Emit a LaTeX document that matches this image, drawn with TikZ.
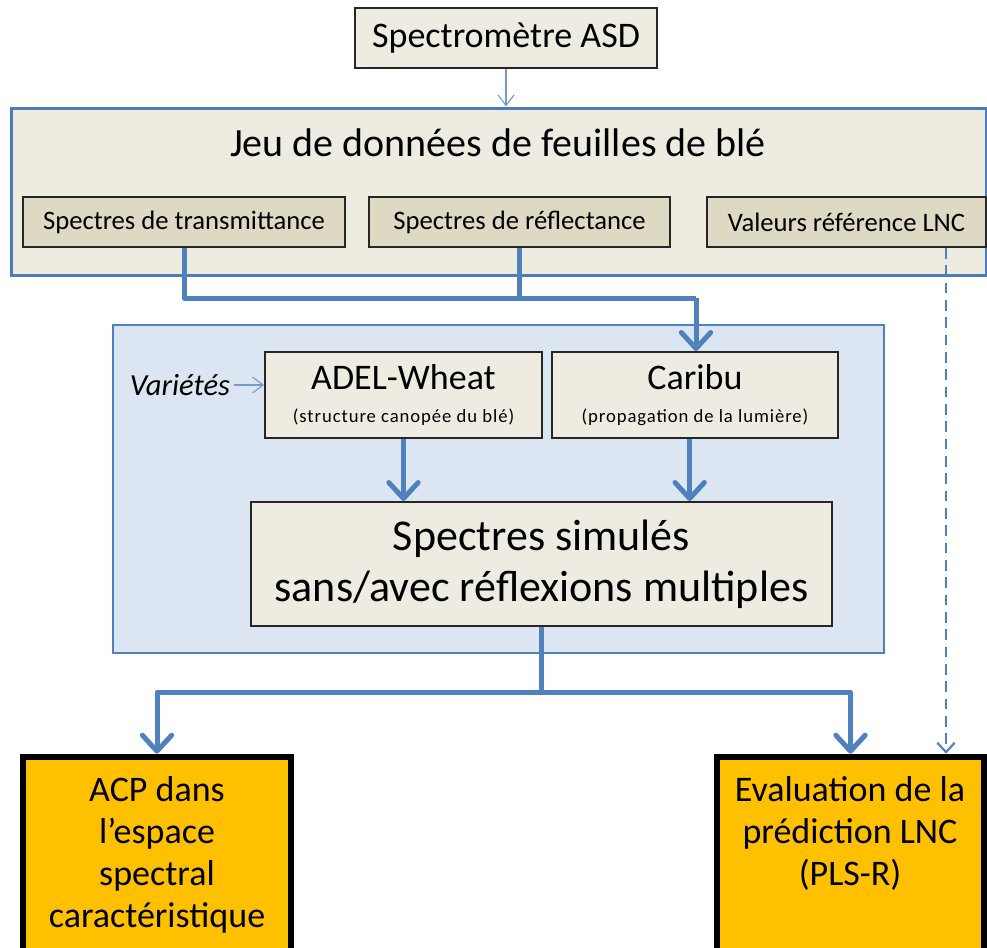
\documentclass[tikz,border=0pt]{standalone}
\usepackage{fontspec}
\setmainfont{Carlito}
\usetikzlibrary{arrows.meta}
\definecolor{beige}{HTML}{EEECE1}
\definecolor{beigedark}{HTML}{DDD9C3}
\definecolor{flowblue}{HTML}{4F81BD}
\definecolor{frameblue}{HTML}{4A7EBB}
\definecolor{paleblue}{HTML}{DCE6F2}
\definecolor{orangebox}{HTML}{FFC000}
\newcommand{\modeltitle}[2]{{\fontsize{27}{30}\selectfont #1}\\
  {\fontsize{14}{26}\selectfont\addfontfeatures{LetterSpace=5}#2}}
\tikzset{
  box/.style={draw=black!85, line width=1.5pt, fill=beige, inner sep=0pt, align=center},
  subbox/.style={box, fill=beigedark, font=\fontsize{20}{24}\selectfont},
  modelbox/.style={box, font=\fontsize{14}{25}\selectfont},
  resbox/.style={draw=black, line width=5pt, fill=orangebox, inner sep=0pt},
  restext/.style={align=center, font=\fontsize{27}{31.5}\selectfont, inner sep=0pt},
  thickflow/.style={draw=flowblue, line width=3.75pt, line join=round,
    -{Straight Barb[length=12pt, width=22pt, line cap=round, line join=round]}},
  thickline/.style={draw=flowblue, line width=3.75pt, line join=round},
  thinflow/.style={draw=flowblue!80, line width=0.8pt,
    -{Straight Barb[length=8pt, width=12pt]}},
  dashflow/.style={draw=flowblue, line width=1.6pt, dash pattern=on 8pt off 5pt,
    -{Straight Barb[length=7pt, width=13pt]}}
}
\begin{document}
\begin{tikzpicture}[x=0.75pt, y=-0.75pt]
\useasboundingbox (0,0) rectangle (987,947);
\clip (0,0) rectangle (987,947);
\fill[white] (0,0) rectangle (987,947);

% top source
\node[box, minimum width=226.5pt, minimum height=45pt,
  font=\fontsize{27}{30}\selectfont] (spec) at (506,38) {Spectromètre ASD};

% dataset frame
\node[draw=frameblue, line width=2.25pt, fill=beige, minimum width=731.25pt,
  minimum height=125.25pt, inner sep=0pt] (jeu) at (498.5,191.5) {};
\node[font=\fontsize{30}{34}\selectfont, inner sep=0pt] (jeutitle) at (498,143)
  {Jeu de données de feuilles de blé};
\node[subbox, minimum width=241.5pt, minimum height=37.5pt] (trans) at (184,222)
  {Spectres de transmittance};
\node[subbox, minimum width=225.75pt, minimum height=37.5pt] (refl) at (519.5,222)
  {Spectres de réflectance};
\node[subbox, minimum width=209.25pt, minimum height=37.5pt] (valeurs) at (846.5,222)
  {Valeurs référence LNC};

% simulation frame
\node[draw=flowblue, line width=0.9pt, fill=paleblue, minimum width=578.25pt,
  minimum height=246pt, inner sep=0pt] (simframe) at (498.5,489) {};
\node[modelbox, minimum width=207.75pt, minimum height=64.5pt] (adel) at (403.5,395)
  {\modeltitle{ADEL-Wheat}{(structure canopée du blé)}};
\node[modelbox, minimum width=214.5pt, minimum height=64.5pt] (caribu) at (695,395)
  {\modeltitle{Caribu}{(propagation de la lumière)}};
\node[font=\fontsize{23}{26}\selectfont\itshape, inner sep=0pt] (var) at (180,385)
  {Variétés};
\node[box, minimum width=435.75pt, minimum height=93pt,
  font=\fontsize{33}{38}\selectfont] (sim) at (541.5,564)
  {Spectres simulés\\sans/avec réflexions multiples};

% results
\node[resbox, minimum width=201pt, minimum height=156pt] (acp) at (157,861) {};
\node[restext] (acptext) at (157,855)
  {ACP dans\\l’espace\\spectral\\caractéristique};
\node[resbox, minimum width=200.25pt, minimum height=156pt] (eval) at (850.5,861) {};
\node[restext] (evaltext) at (850,833)
  {Evaluation de la\\prédiction LNC\\(PLS-R)};

% connectors
\coordinate (merge) at (696,298);
\coordinate (split) at (541.5,692);
\coordinate (dcol) at (946,0);

\draw[thinflow] (spec.south) -- (spec.south |- jeu.north);
\draw[thinflow] (var.east) ++(4,0) -- (adel.west |- var.east);

\draw[thickline] (trans.south) |- (merge);
\draw[thickline] (refl.south) -- (refl.south |- merge);
\draw[thickflow] (merge) -- (merge |- caribu.north);

\draw[thickflow] (adel.south) -- (adel.south |- sim.north);
\draw[thickflow] ([xshift=-4]caribu.south) -- ([xshift=-4]caribu.south |- sim.north);

\draw[thickline] (sim.south) -- (split);
\draw[thickflow] (split) -| (acp.north);
\draw[thickflow] (split) -| (eval.north);

\draw[dashflow] (valeurs.south -| dcol) -- (eval.north -| dcol);
\end{tikzpicture}
\end{document}
